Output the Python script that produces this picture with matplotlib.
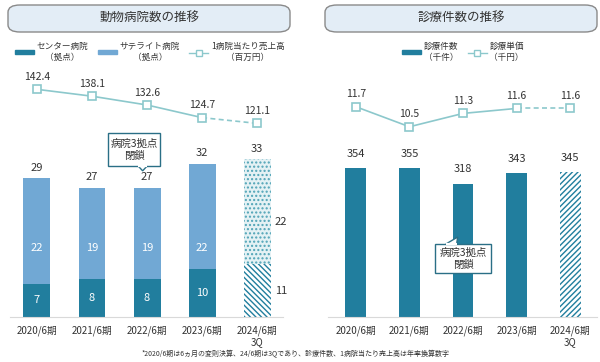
import matplotlib
matplotlib.use("Agg")
import matplotlib.pyplot as plt
import numpy as np
from matplotlib.patches import FancyBboxPatch, Rectangle, Polygon
from matplotlib.lines import Line2D

plt.rcParams["font.family"] = ["Noto Sans CJK JP", "DejaVu Sans"]
plt.rcParams["hatch.linewidth"] = 1.0

# ---- data ----
periods = ["2020/6期", "2021/6期", "2022/6期", "2023/6期", "2024/6期\n3Q"]
center_hospitals = [7, 8, 8, 10, 11]
satellite_hospitals = [22, 19, 19, 22, 22]
hospital_totals = [29, 27, 27, 32, 33]
sales_per_hospital = [142.4, 138.1, 132.6, 124.7, 121.1]

visits = [354, 355, 318, 343, 345]
visit_price = [11.7, 10.5, 11.3, 11.6, 11.6]

DARK = "#217e9e"
LIGHT = "#71a8d4"
LINE = "#8cc8cc"
EDGE = "#2a6f86"
TXT = "#333333"
W, H = 600, 362

fig = plt.figure(figsize=(W / 100, H / 100), dpi=100)


def px_axes(x0, x1, y_top, y_bot):
    return fig.add_axes([x0 / W, 1 - y_bot / H, (x1 - x0) / W, (y_bot - y_top) / H])


def title_box(x0, x1, text):
    box = FancyBboxPatch((x0 / W, 1 - 32 / H), (x1 - x0) / W, 27 / H,
                         boxstyle="round,pad=0,rounding_size=0.02", transform=fig.transFigure,
                         fc="#e3edf6", ec="#8a8a8a", lw=1.0)
    fig.patches.append(box)
    fig.text((x0 + x1) / 2 / W, 1 - 18.5 / H, text, ha="center", va="center", fontsize=9, color=TXT)


def style_axes(ax, xlim):
    ax.set_xlim(*xlim)
    for s in ["top", "left", "right"]:
        ax.spines[s].set_visible(False)
    ax.spines["bottom"].set_color("#d9d9d9")
    ax.set_yticks([])
    ax.set_xticks(range(len(periods)))
    ax.set_xticklabels(periods, fontsize=7, color=TXT)
    ax.tick_params(axis="x", length=0, pad=6)


def callout(ax, text, x0, x1, y0, y1, notch):
    # speech bubble: rectangle plus a small triangular pointer
    ax.add_patch(Rectangle((x0, y0), x1 - x0, y1 - y0, fc="white", ec=EDGE, lw=1.0, zorder=10))
    (bx0, by), (bx1, _), tip = notch
    ax.add_patch(Polygon([(bx0, by), tip, (bx1, by)], closed=False, fc="white", ec=EDGE,
                         lw=1.0, zorder=11))
    ax.plot([bx0, bx1], [by, by], color="white", lw=1.6, zorder=12, solid_capstyle="butt")
    ax.text((x0 + x1) / 2, (y0 + y1) / 2, text, ha="center", va="center", fontsize=7.5,
            color=TXT, linespacing=1.25, zorder=13)


x = np.arange(len(periods))

# ---------------- left panel ----------------
title_box(8, 290, "動物病院数の推移")
ax1 = px_axes(10, 283, 50, 317)
style_axes(ax1, (-0.49, 4.47))
ax1.set_ylim(0, 55.9)
bw = 0.49
for i in range(len(periods)):
    if i < 4:
        ax1.bar(x[i], center_hospitals[i], bw, color=DARK)
        ax1.bar(x[i], satellite_hospitals[i], bw, bottom=center_hospitals[i], color=LIGHT)
        ax1.text(x[i], center_hospitals[i] / 2, str(center_hospitals[i]), ha="center", va="center",
                 color="white", fontsize=8)
        ax1.text(x[i], 14.5, str(satellite_hospitals[i]), ha="center", va="center",
                 color="white", fontsize=8)
    else:
        ax1.bar(x[i], center_hospitals[i], bw, color="white", edgecolor=DARK, hatch="\\" * 6, lw=0)
        ax1.bar(x[i], satellite_hospitals[i], bw, bottom=center_hospitals[i], color="#e4f1f4",
                edgecolor="#4fa3b6", hatch="....", lw=0)
        ax1.text(x[i] + bw / 2 + 0.08, center_hospitals[i] / 2, str(center_hospitals[i]),
                 ha="left", va="center", color=TXT, fontsize=8)
        ax1.text(x[i] + bw / 2 + 0.08, center_hospitals[i] + satellite_hospitals[i] * 0.4,
                 str(satellite_hospitals[i]), ha="left", va="center", color=TXT, fontsize=8)
    ax1.text(x[i], hospital_totals[i] + 1.2, str(hospital_totals[i]), ha="center", va="bottom",
             color=TXT, fontsize=8)

lx1 = ax1.twinx()
lx1.set_ylim(0, 167)
lx1.set_axis_off()
lx1.plot(x[:4], sales_per_hospital[:4], color=LINE, lw=1.2)
lx1.plot(x[3:], sales_per_hospital[3:], color=LINE, lw=1.2, ls=(0, (3, 2)))
lx1.plot(x, sales_per_hospital, ls="none", marker="s", ms=5.5, mfc="white", mec=LINE, mew=1.2)
for i, v in enumerate(sales_per_hospital):
    lx1.text(x[i], v + 4.5, f"{v:.1f}", ha="center", va="bottom", color=TXT, fontsize=7.5)

callout(ax1, "病院3拠点\n閉鎖", 1.29, 2.24, 31.6, 38.5,
        [(1.84, 31.6), (2.0, 31.6), (1.92, 30.6)])

h1 = [Rectangle((0, 0), 1, 1, color=DARK), Rectangle((0, 0), 1, 1, color=LIGHT),
      Line2D([], [], color=LINE, marker="s", ms=4, mfc="white", mec=LINE, lw=1)]
leg1 = fig.legend(h1, ["センター病院\n（拠点）", "サテライト病院\n（拠点）", "1病院当たり売上高\n（百万円）"],
                  loc="center", bbox_to_anchor=(150 / W, 1 - 52 / H), ncol=3, frameon=False,
                  fontsize=6.2, handlelength=2.2, handleheight=0.35, handletextpad=0.3,
                  columnspacing=1.1, borderpad=0)

# ---------------- right panel ----------------
title_box(325, 597, "診療件数の推移")
ax2 = px_axes(328, 597, 50, 317)
style_axes(ax2, (-0.52, 4.5))
ax2.set_ylim(0, 636)
bw2 = 0.39
for i in range(len(periods)):
    if i < 4:
        ax2.bar(x[i], visits[i], bw2, color=DARK)
    else:
        ax2.bar(x[i], visits[i], bw2, color="white", edgecolor=DARK, hatch="/" * 6, lw=0)
    ax2.text(x[i], visits[i] + 22, str(visits[i]), ha="center", va="bottom", color=TXT, fontsize=8)

lx2 = ax2.twinx()
lx2.set_ylim(-0.9, 15.1)
lx2.set_axis_off()
lx2.plot(x[:4], visit_price[:4], color=LINE, lw=1.2)
lx2.plot(x[3:], visit_price[3:], color=LINE, lw=1.2, ls=(0, (3, 2)))
lx2.plot(x, visit_price, ls="none", marker="s", ms=5.5, mfc="white", mec=LINE, mew=1.2)
for i, v in enumerate(visit_price):
    lx2.text(x[i], v + 0.45, f"{v:.1f}", ha="center", va="bottom", color=TXT, fontsize=7.5)

callout(ax2, "病院3拠点\n閉鎖", 1.48, 2.52, 104.8, 173.8,
        [(1.68, 173.8), (1.88, 173.8), (1.9, 190.5)])

h2 = [Rectangle((0, 0), 1, 1, color=DARK),
      Line2D([], [], color=LINE, marker="s", ms=4, mfc="white", mec=LINE, lw=1)]
leg2 = fig.legend(h2, ["診療件数\n（千件）", "診療単価\n（千円）"],
                  loc="center", bbox_to_anchor=(463 / W, 1 - 52 / H), ncol=2, frameon=False,
                  fontsize=6.2, handlelength=2.2, handleheight=0.35, handletextpad=0.3,
                  columnspacing=1.1, borderpad=0)

for leg in (leg1, leg2):
    for t in leg.get_texts():
        t.set_multialignment("center")
        t.set_color(TXT)

fig.text(296 / W, 1 - 354 / H,
         "*2020/6期は6ヵ月の変則決算、24/6期は3Qであり、診療件数、1病院当たり売上高は年率換算数字",
         ha="center", va="center", fontsize=5, color=TXT)

fig.savefig("out.png", dpi=100)
